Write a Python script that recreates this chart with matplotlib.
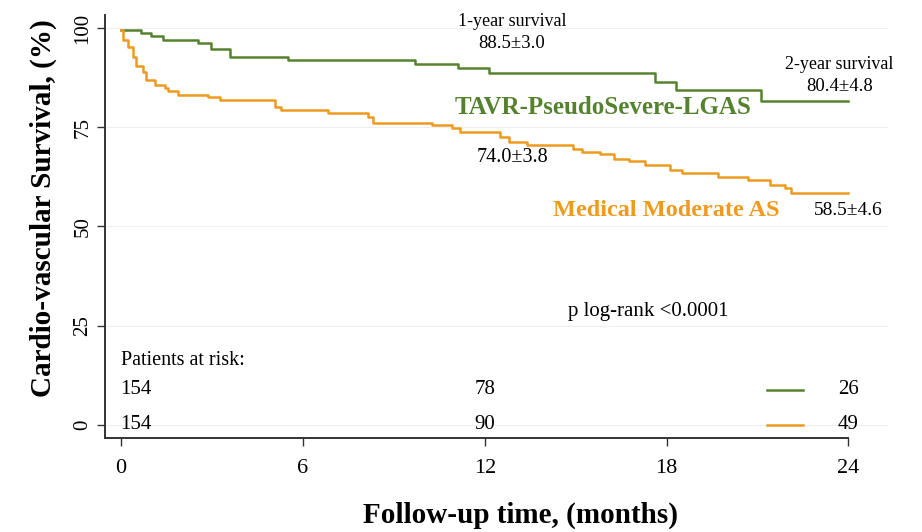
import matplotlib
matplotlib.use("Agg")
from matplotlib import pyplot as plt

plt.rcParams['font.family'] = ['Liberation Serif', 'DejaVu Serif']

# Kaplan-Meier step points (months, % survival)
tavr_t = [0, 0.66, 0.99, 1.37, 2.53, 2.97, 3.58, 5.5, 9.7, 11.1, 12.15, 17.6, 18.3, 21.1, 24]
tavr_s = [99.5, 98.8, 98.0, 97.0, 96.1, 94.7, 92.8, 92.0, 90.9, 89.9, 88.6, 86.5, 84.4, 81.6, 81.6]

med_t = [0, 0.05, 0.22, 0.39, 0.50, 0.72, 0.83, 1.10, 1.43, 1.54, 1.87, 2.87, 3.25, 5.07, 5.29,
         6.83, 8.16, 8.32, 10.25, 10.91, 11.18, 12.5, 12.8, 13.4, 14.9, 15.2, 15.8, 16.25,
         16.75, 17.3, 18.1, 18.5, 19.7, 20.7, 21.4, 21.9, 22.1, 24]
med_s = [99.5, 97.0, 95.3, 92.8, 90.3, 89.0, 86.9, 85.6, 84.8, 84.0, 83.1, 82.7, 81.9, 80.2, 79.3,
         78.5, 77.6, 76.1, 75.6, 74.7, 73.8, 72.6, 71.3, 70.5, 69.6, 68.8, 68.2, 67.1,
         66.5, 65.5, 64.2, 63.4, 62.5, 61.7, 60.5, 59.6, 58.5, 58.5]

x_ticks = [0, 6, 12, 18, 24]
y_ticks = [0, 25, 50, 75, 100]
risk_times = [0, 12, 24]
risk_tavr = [154, 78, 26]
risk_med = [154, 90, 49]

green = '#55822f'
orange = '#ee9a1e'

fig = plt.figure(figsize=(9.22, 5.32), dpi=100)
ax = fig.add_axes([0.114, 0.177, 0.849, 0.795])

for y in y_ticks:
    ax.axhline(y, color='#efefef', lw=0.8, zorder=0)

ax.step(tavr_t, tavr_s, where='post', color=green, lw=1.8)
ax.step(med_t, med_s, where='post', color=orange, lw=1.8)

ax.set_xlim(-0.53, 25.3)
ax.set_ylim(-3.3, 103.3)
ax.spines['top'].set_visible(False)
ax.spines['right'].set_visible(False)
ax.spines['bottom'].set_bounds(-0.53, 24)
ax.spines['left'].set_linewidth(1.4)
ax.spines['bottom'].set_linewidth(1.4)
ax.spines['left'].set_color('#333333')
ax.spines['bottom'].set_color('#333333')

ax.set_xticks(x_ticks)
ax.set_xticklabels([str(v) for v in x_ticks], fontsize=16)
ax.set_yticks(y_ticks)
ax.set_yticklabels([str(v) for v in y_ticks], fontsize=15, rotation=90, va='center')
ax.tick_params(axis='x', length=6, width=1, color='#333333', pad=9)
ax.tick_params(axis='y', length=6, width=1, color='#333333', pad=3)

ax.set_xlabel("Follow-up time, (months)", fontsize=21, fontweight='bold')
ax.set_ylabel("Cardio-vascular Survival, (%)", fontsize=21, fontweight='bold')
ax.xaxis.set_label_coords(0.531, -0.15)
ax.yaxis.set_label_coords(-0.061, 0.544)

# annotations
ax.text(12.9, 101.6, "1-year survival", fontsize=13, ha='center', va='center')
ax.text(12.9, 96.2, "88.5±3.0", fontsize=13.5, ha='center', va='center')
ax.text(23.7, 90.8, "2-year survival", fontsize=13, ha='center', va='center')
ax.text(23.7, 85.2, "80.4±4.8", fontsize=13.5, ha='center', va='center')
ax.text(15.9, 80.0, "TAVR-PseudoSevere-LGAS", fontsize=18, fontweight='bold', color=green,
        ha='center', va='center')
ax.text(12.9, 67.4, "74.0±3.8", fontsize=14.5, ha='center', va='center')
ax.text(18.0, 54.0, "Medical Moderate AS", fontsize=17.5, fontweight='bold', color=orange,
        ha='center', va='center')
ax.text(24.0, 54.0, "58.5±4.6", fontsize=14, ha='center', va='center')
ax.text(17.4, 28.6, "p log-rank <0.0001", fontsize=15, ha='center', va='center')

# numbers at risk
ax.text(0.0, 16.2, "Patients at risk:", fontsize=14.5, ha='left', va='center')
for t, a, b in zip(risk_times, risk_tavr, risk_med):
    xpos = t + 0.5 if t == 0 else t
    ax.text(xpos, 8.8, str(a), fontsize=15, ha='center', va='center')
    ax.text(xpos, 0.0, str(b), fontsize=15, ha='center', va='center')
ax.plot([21.3, 22.5], [8.8, 8.8], color=green, lw=1.8)
ax.plot([21.3, 22.5], [0.0, 0.0], color=orange, lw=1.8)

fig.savefig("out.png", dpi=100)
